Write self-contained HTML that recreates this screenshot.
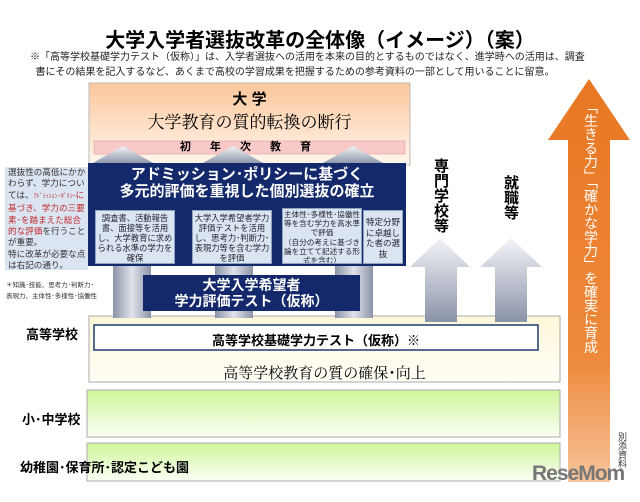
<!DOCTYPE html>
<html><head><meta charset="utf-8"><style>
body{margin:0;width:640px;height:502px;background:#fff;position:relative;overflow:hidden;font-family:"Liberation Sans","Noto Sans CJK JP",sans-serif;}
.a{position:absolute;}
.c{text-align:center;}
.b{font-weight:bold;}
.ser{font-family:"Liberation Serif","Noto Serif CJK SC",serif;}
.ib{position:absolute;background:#dbe5f1;border:1px solid #8ea3c0;color:#223;font-size:8.3px;line-height:10px;text-align:center;box-sizing:border-box;padding:2px 1px 0;overflow:hidden;}
.v{writing-mode:vertical-rl;}
</style></head><body>
<div class="a c b" style="left:0;width:640px;top:24px;font-size:20px;">大学入学者選抜改革の全体像（イメージ）（案）</div>
<div class="a" style="left:30px;top:50px;width:600px;font-size:10px;line-height:15px;color:#222;">※「高等学校基礎学力テスト（仮称）」は、入学者選抜への活用を本来の目的とするものではなく、進学時への活用は、調査<br>&nbsp;&nbsp;書にその結果を記入するなど、あくまで高校の学習成果を把握するための参考資料の一部として用いることに留意。</div>

<svg class="a" style="left:0;top:0" width="640" height="502">
<defs>
<linearGradient id="og" x1="0" y1="0" x2="0" y2="1"><stop offset="0" stop-color="#e87722"/><stop offset="0.7" stop-color="#ee8a3c"/><stop offset="1" stop-color="#f6c49a"/></linearGradient>
<linearGradient id="gg" x1="0" y1="0" x2="0" y2="1"><stop offset="0" stop-color="#f4f5f8"/><stop offset="1" stop-color="#8a93a8"/></linearGradient>
<linearGradient id="gs" x1="0" y1="0" x2="1" y2="0"><stop offset="0" stop-color="#8a93a8"/><stop offset="0.5" stop-color="#e0e3ea"/><stop offset="1" stop-color="#8a93a8"/></linearGradient>
<linearGradient id="ub" x1="0" y1="0" x2="0" y2="1"><stop offset="0" stop-color="#fbc79a"/><stop offset="1" stop-color="#fff6ee"/></linearGradient>
<linearGradient id="gr" x1="0" y1="0" x2="0" y2="1"><stop offset="0" stop-color="#cff59a"/><stop offset="1" stop-color="#fbfff5"/></linearGradient>
<linearGradient id="hs" x1="0" y1="0" x2="0" y2="1"><stop offset="0" stop-color="#fdf7d8"/><stop offset="1" stop-color="#fffef6"/></linearGradient>
</defs>
<polygon points="589,79 630,140 610,140 610,482 568,482 568,140 548,140" fill="url(#og)"/>
<rect x="89" y="83" width="321" height="82" fill="url(#ub)" stroke="#bbb"/>
<rect x="94" y="141" width="311" height="13" fill="#f7c9c9" stroke="#e0a0a0" stroke-width="0.6"/>
<rect x="89" y="316" width="471" height="66" fill="url(#hs)" stroke="#aaa"/>
<rect x="87" y="390" width="473" height="47" fill="url(#gr)" stroke="#aaa"/>
<rect x="87" y="443" width="473" height="38" fill="url(#gr)" stroke="#aaa"/>
<rect x="113" y="260" width="38" height="58" fill="url(#gs)"/>
<rect x="215" y="260" width="38" height="58" fill="url(#gs)"/>
<rect x="335" y="260" width="38" height="58" fill="url(#gs)"/>
<polygon points="123,146 155,164 91,164" fill="url(#gg)"/>
<polygon points="233,146 265,164 201,164" fill="url(#gg)"/>
<polygon points="353,146 385,164 321,164" fill="url(#gg)"/>
<polygon points="440,238 470,267 457,267 457,322 425,322 425,267 410,267" fill="url(#gg)"/>
<polygon points="511,238 542,267 527,267 527,322 495,322 495,267 480,267" fill="url(#gg)"/>
<rect x="88" y="163" width="318" height="103" fill="#14296b"/>
<rect x="143" y="275" width="217" height="36" fill="#14296b"/>
<rect x="94" y="325" width="444" height="25" fill="#fff" stroke="#1f3a73" stroke-width="1.5"/>
</svg>
<div class="a c b" style="left:89px;width:321px;top:88px;font-size:15px;">大 学</div>
<div class="a c ser" style="left:89px;width:321px;top:108px;font-size:17px;">大学教育の質的転換の断行</div>
<div class="a c b" style="left:94px;width:311px;top:141px;font-size:11px;line-height:13px;letter-spacing:8px;">初 年 次 教 育</div>
<div class="a c b" style="left:88px;width:318px;top:166px;font-size:15px;line-height:17px;color:#fff;">アドミッション･ポリシーに基づく<br>多元的評価を重視した個別選抜の確立</div>
<div class="ib" style="left:95px;top:210px;width:80px;height:54px;">調査書、活動報告書、面接等を活用し、大学教育に求められる水準の学力を確保</div>
<div class="ib" style="left:192px;top:210px;width:80px;height:54px;">大学入学希望者学力評価テストを活用し、思考力･判断力･表現力等を含む学力を評価</div>
<div class="ib" style="left:282px;top:208px;width:80px;height:56px;font-size:7.6px;line-height:9.2px;padding-top:1px;">主体性･多様性･協働性等を含む学力を高水準で評価<br>（自分の考えに基づき論を立てて記述する形式を含む）</div>
<div class="ib" style="left:363px;top:210px;width:40px;height:54px;font-size:8.5px;line-height:10.5px;padding-top:6px;">特定分野に卓越した者の選抜</div>
<div class="a c b" style="left:143px;width:217px;top:277px;font-size:14px;line-height:16px;color:#fff;">大学入学希望者<br>学力評価テスト（仮称）</div>
<div class="a" style="left:5px;top:167px;width:83px;height:103px;background:#dbe5f1;font-size:8.6px;line-height:11.4px;color:#333;padding-left:3px;box-sizing:border-box;overflow:hidden;">選抜性の高低にかかわらず、学力については、<span style="color:#c0282d;font-size:6px;">ｱﾄﾞﾐｯｼｮﾝ･ﾎﾟﾘｼｰ</span><span style="color:#c0282d">に基づき、学力の三要素･を踏まえた総合的な評価</span>を行うことが重要。<br>特に改革が必要な点は右記の通り。</div>
<div class="a" style="left:6px;top:280px;font-size:6.5px;line-height:11px;color:#333;">＊知識･技能、思考力･判断力･<br>表現力、主体性･多様性･協働性</div>
<div class="a c b" style="left:94px;width:444px;top:330px;font-size:13px;">高等学校基礎学力テスト（仮称）※</div>
<div class="a c ser" style="left:89px;width:471px;top:362px;font-size:15px;">高等学校教育の質の確保･向上</div>
<div class="a b" style="left:26px;top:324px;font-size:13px;">高等学校</div>
<div class="a b" style="left:22px;top:409px;font-size:13px;">小･中学校</div>
<div class="a b" style="left:20px;top:457px;font-size:13px;">幼稚園･保育所･認定こども園</div>
<div class="a v b" style="left:430px;top:158px;font-size:15px;line-height:20px;">専門学校等</div>
<div class="a v b" style="left:500px;top:175px;font-size:15px;line-height:20px;">就職等</div>
<div class="a v" style="left:581px;top:100px;font-size:14px;line-height:20px;letter-spacing:-0.3px;color:#fff;">「生きる力」「確かな学力」を確実に育成</div>
<div class="a v" style="left:616px;top:432px;font-size:9px;color:#333;">別添資料</div>
<div class="a b" style="left:532px;top:462px;font-size:21px;color:#777;letter-spacing:-1px;">ReseMom</div>
</body></html>
